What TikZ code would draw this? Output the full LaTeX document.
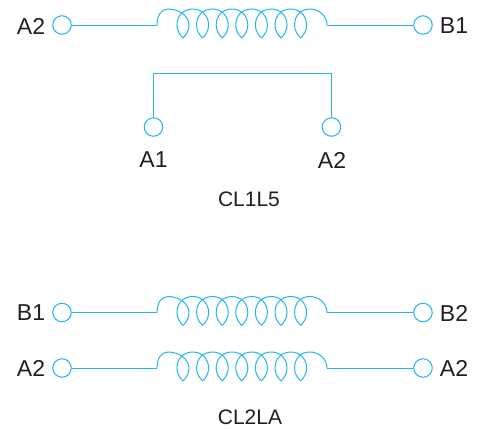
\documentclass[tikz,border=0pt]{standalone}
\usepackage{fontspec}
\setmainfont{Liberation Sans}
\definecolor{wirecyan}{HTML}{22B5EE}
\definecolor{labelgray}{HTML}{231F20}

\begin{document}
\begin{tikzpicture}[x=1pt, y=-1pt]
\tikzset{
    wire/.style={draw=wirecyan, line width=1pt},
    term/.style={circle, draw=wirecyan, line width=1pt, fill=white, minimum size=18.5pt, inner sep=0pt},
    pinlabel/.style={text=labelgray, font=\fontsize{23}{25}\selectfont, inner sep=0pt},
    partlabel/.style={text=labelgray, font=\fontsize{21}{24}\selectfont, inner sep=0pt},
    coil/.pic={
      \coordinate (-in) at (0,0);
      \coordinate (-out) at (170,0);
      \draw[wire] (0,0) .. controls (0,-9) and (4,-16) .. (11,-16)
        .. controls (22,-16) and (32,-9) .. (32,0) .. controls (32,5) and (30,9) .. (26,13);
      \foreach \k in {0,...,5}
        \draw[wire, xshift=\k*19.6pt] (26,13) .. controls (22,9) and (20,5) .. (20,0)
          .. controls (20,-9) and (26,-16) .. (36,-16)
          .. controls (45,-16) and (51.6,-9) .. (51.6,0)
          .. controls (51.6,5) and (49.6,9) .. (45.6,13);
      \draw[wire] (143.6,13) .. controls (139.6,9) and (137.6,5) .. (137.6,0)
        .. controls (137.6,-9) and (143,-16) .. (153,-16)
        .. controls (162,-16) and (170,-9) .. (170,0);
    }
}
  \useasboundingbox (0,0) rectangle (483,429);

  % CL1L5
  \node[term] (ta) at (62,25) {};
  \node[term] (tb) at (423,25) {};
  \node[pinlabel] (la) at (31,26) {A2};
  \node[pinlabel] (lb) at (454,26) {B1};
  \pic (coilA) at (157,25) {coil};
  \draw[wire] (ta) -- (coilA-in);
  \draw[wire] (coilA-out) -- (tb);
  \node[term] (tc) at (153.5,127) {};
  \node[term] (td) at (331.5,127) {};
  \node[pinlabel] (lc) at (153.5,160) {A1};
  \node[pinlabel] (ld) at (332,160) {A2};
  \coordinate (corner) at (153.5,73);
  \draw[wire] (tc) -- (corner) -| (td);
  \node[partlabel] (partA) at (249,199) {CL1L5};

  % CL2LA
  \node[term] (te) at (62,312.5) {};
  \node[term] (tf) at (423,312.5) {};
  \node[pinlabel] (le) at (31,313) {B1};
  \node[pinlabel] (lf) at (454,313) {B2};
  \pic (coilB) at (157,312.5) {coil};
  \draw[wire] (te) -- (coilB-in);
  \draw[wire] (coilB-out) -- (tf);
  \node[term] (tg) at (62,368) {};
  \node[term] (th) at (423,368) {};
  \node[pinlabel] (lg) at (31,368) {A2};
  \node[pinlabel] (lh) at (454,368) {A2};
  \pic (coilC) at (157,368) {coil};
  \draw[wire] (tg) -- (coilC-in);
  \draw[wire] (coilC-out) -- (th);
  \node[partlabel] (partB) at (250,417.5) {CL2LA};
\end{tikzpicture}
\end{document}
